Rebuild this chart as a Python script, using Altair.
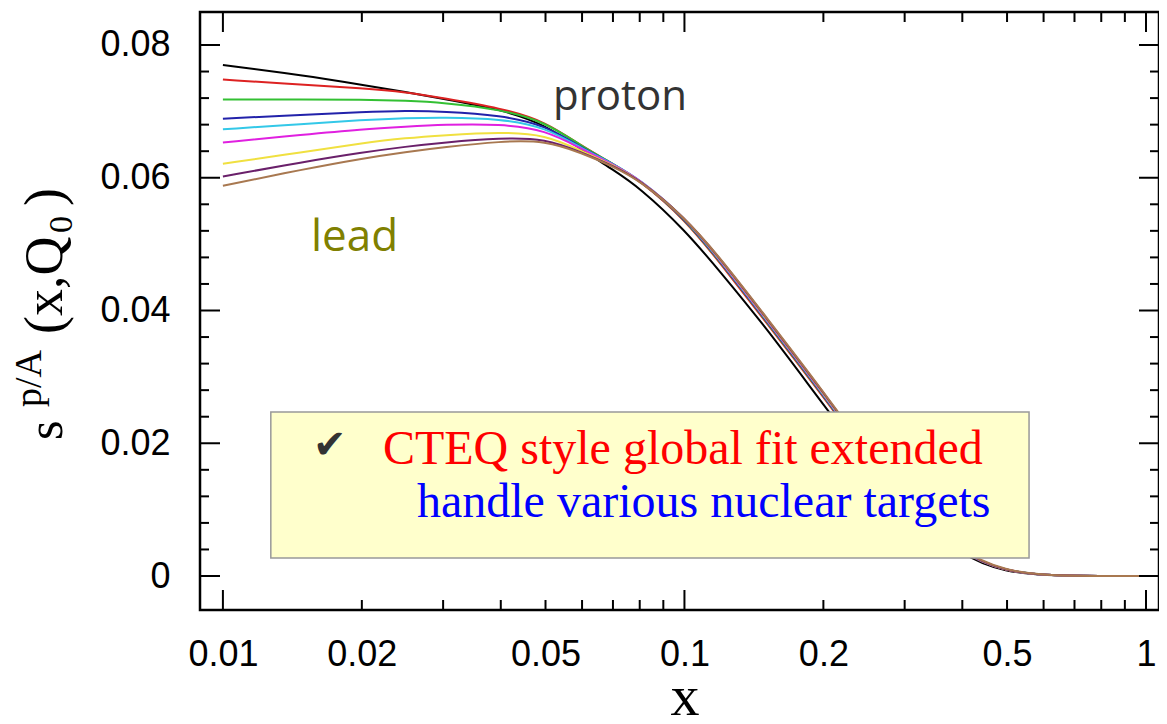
import altair as alt
import pandas as pd

# ---------------- data ----------------
X_VALUES = [0.01, 0.015, 0.02, 0.025, 0.03, 0.04, 0.05, 0.06, 0.07, 0.08, 0.1,
            0.12, 0.15, 0.2, 0.25, 0.3, 0.4, 0.5, 0.6, 0.8, 1.0]

SERIES_NAMES = ["proton", "A2", "A3", "A4", "A5", "A6", "A7", "A8", "lead"]
SERIES_COLORS = ["#000000", "#dd2222", "#33c033", "#2222aa", "#33c8e8",
                 "#e020e0", "#f0e040", "#6a206a", "#a87850"]

proton = [0.0770, 0.0754, 0.0740, 0.0729, 0.0719, 0.0703, 0.0680, 0.0642, 0.0612, 0.0585, 0.0522,
          0.0457, 0.0375, 0.0258, 0.0170, 0.0105, 0.0028, 0.0006, 0.0001, 0.0, 0.0]
a2 = [0.0748, 0.0740, 0.0735, 0.0729, 0.0720, 0.0705, 0.0685, 0.0647, 0.0621, 0.0596, 0.0538,
      0.0470, 0.0383, 0.0270, 0.0178, 0.0111, 0.0030, 0.0007, 0.0001, 0.0, 0.0]
a3 = [0.0718, 0.0718, 0.0718, 0.0716, 0.0713, 0.0703, 0.0684, 0.0647, 0.0621, 0.0597, 0.0539,
      0.0472, 0.0385, 0.0272, 0.0179, 0.0112, 0.0031, 0.0007, 0.0001, 0.0, 0.0]
a4 = [0.0689, 0.0695, 0.0699, 0.0701, 0.0700, 0.0694, 0.0679, 0.0645, 0.0621, 0.0597, 0.0540,
      0.0473, 0.0386, 0.0273, 0.0180, 0.0112, 0.0031, 0.0007, 0.0001, 0.0, 0.0]
a5 = [0.0673, 0.0681, 0.0687, 0.0690, 0.0691, 0.0689, 0.0676, 0.0644, 0.0621, 0.0598, 0.0541,
      0.0474, 0.0387, 0.0274, 0.0181, 0.0113, 0.0031, 0.0007, 0.0001, 0.0, 0.0]
a6 = [0.0653, 0.0665, 0.0673, 0.0677, 0.0680, 0.0681, 0.0672, 0.0643, 0.0620, 0.0598, 0.0541,
      0.0475, 0.0388, 0.0275, 0.0182, 0.0113, 0.0032, 0.0007, 0.0001, 0.0, 0.0]
a7 = [0.0621, 0.0639, 0.0652, 0.0660, 0.0664, 0.0669, 0.0665, 0.0640, 0.0619, 0.0597, 0.0541,
      0.0476, 0.0389, 0.0276, 0.0183, 0.0114, 0.0032, 0.0007, 0.0001, 0.0, 0.0]
a8 = [0.0602, 0.0624, 0.0638, 0.0647, 0.0653, 0.0660, 0.0659, 0.0638, 0.0618, 0.0597, 0.0541,
      0.0477, 0.0390, 0.0277, 0.0184, 0.0114, 0.0032, 0.0007, 0.0001, 0.0, 0.0]
lead = [0.0588, 0.0613, 0.0629, 0.0639, 0.0646, 0.0655, 0.0656, 0.0637, 0.0617, 0.0596, 0.0541,
        0.0478, 0.0391, 0.0278, 0.0185, 0.0115, 0.0033, 0.0008, 0.0001, 0.0, 0.0]
SERIES_VALUES = [proton, a2, a3, a4, a5, a6, a7, a8, lead]

X_LABELS = [0.01, 0.02, 0.05, 0.1, 0.2, 0.5, 1]
Y_LABELS = [0, 0.02, 0.04, 0.06, 0.08]
X_MAJOR = [0.01, 0.1, 1]
X_MINOR = [0.02, 0.03, 0.04, 0.05, 0.06, 0.07, 0.08, 0.09,
           0.2, 0.3, 0.4, 0.5, 0.6, 0.7, 0.8, 0.9]
Y_MAJOR = [0, 0.02, 0.04, 0.06, 0.08]
Y_MINOR = [0.004, 0.008, 0.012, 0.016, 0.024, 0.028, 0.032, 0.036,
           0.044, 0.048, 0.052, 0.056, 0.064, 0.068, 0.072, 0.076]

# annotation box (data units) and texts
BOX = {"x": [0.0127], "x2": [0.558], "y": [0.0027], "y2": [0.0247]}
LINE1 = {"x": [0.02222], "y": [0.01687], "t": ["CTEQ style global fit extended"]}
LINE2 = {"x": [0.02633], "y": [0.00889], "t": ["handle various nuclear targets"]}
CHECK = {"x": [0.01567], "y": [0.01778], "t": ["\u2714"]}
PROTON_LBL = {"x": [0.0519], "y": [0.0702], "t": ["proton"]}
LEAD_LBL = {"x": [0.01552], "y": [0.04896], "t": ["lead"]}

# ---------------- layout ----------------
W, H = 959, 598
XDOM = [0.00892, 1.0671]
YDOM = [-0.00512, 0.08497]

rows = []
for name, vals in zip(SERIES_NAMES, SERIES_VALUES):
    for xv, yv in zip(X_VALUES, vals):
        rows.append({"x": xv, "y": yv, "series": name})
df = pd.DataFrame(rows)

xscale = alt.Scale(type="log", domain=XDOM, nice=False)
yscale = alt.Scale(domain=YDOM, nice=False, zero=False)
xaxis = alt.Axis(values=X_LABELS, format="~g", ticks=False, domain=False, grid=False,
                 labelFont="Liberation Sans", labelFontSize=36, labelColor="black",
                 labelPadding=27, title=None, labelFlush=False, labelOverlap=False)
yaxis = alt.Axis(values=Y_LABELS, format="~g", ticks=False, domain=False, grid=False,
                 labelFont="Liberation Sans", labelFontSize=36, labelColor="black",
                 labelPadding=30, title=None, labelFlush=False, labelOverlap=False)

lines = alt.Chart(df).mark_line(strokeWidth=2, interpolate="basis").encode(
    x=alt.X("x:Q", scale=xscale, axis=xaxis),
    y=alt.Y("y:Q", scale=yscale, axis=yaxis),
    color=alt.Color("series:N", scale=alt.Scale(domain=SERIES_NAMES, range=SERIES_COLORS),
                    legend=None),
)

box = alt.Chart(pd.DataFrame(BOX)).mark_rect(fill="#ffffcc", stroke="#999999",
                                             strokeWidth=1.5).encode(
    x=alt.X("x:Q", scale=xscale, axis=xaxis), x2="x2",
    y=alt.Y("y:Q", scale=yscale, axis=yaxis), y2="y2")


def data_text(d, color, font, size):
    return alt.Chart(pd.DataFrame(d)).mark_text(
        align="left", baseline="alphabetic", color=color, font=font, fontSize=size
    ).encode(x=alt.X("x:Q", scale=xscale, axis=xaxis),
             y=alt.Y("y:Q", scale=yscale, axis=yaxis), text="t:N")


t1 = data_text(LINE1, "#ff0000", "Liberation Serif", 48)
t2 = data_text(LINE2, "#0000ff", "Liberation Serif", 48)
tc = data_text(CHECK, "#333333", "DejaVu Sans", 40)
tp = data_text(PROTON_LBL, "#333333", "Open Sans", 42)
tl = data_text(LEAD_LBL, "#808000", "Open Sans", 44)


def pix_text(txt, px, py, size, angle=270, align="left", font="Liberation Serif"):
    return alt.Chart(pd.DataFrame({"t": [txt]})).mark_text(
        align=align, baseline="alphabetic", angle=angle, font=font,
        fontSize=size, color="black"
    ).encode(x=alt.value(px), y=alt.value(py), text="t:N")


ytitle = [
    pix_text("s", -138, 428, 50),
    pix_text("p/A", -159, 395, 38),
    pix_text("(x,Q", -138, 322, 54),
    pix_text("0", -128, 221, 34),
    pix_text(")", -138, 194, 54),
]
xtitle = pix_text("x", 485, 703, 58, angle=0, align="center")


def xticks(vals, length):
    d = pd.DataFrame({"x": vals})
    bot = alt.Chart(d).mark_rule(color="black", strokeWidth=2).encode(
        x=alt.X("x:Q", scale=xscale, axis=xaxis), y=alt.value(H), y2=alt.value(H - length))
    top = alt.Chart(d).mark_rule(color="black", strokeWidth=2).encode(
        x=alt.X("x:Q", scale=xscale, axis=xaxis), y=alt.value(0), y2=alt.value(length))
    return [bot, top]


def yticks(vals, length):
    d = pd.DataFrame({"y": vals})
    left = alt.Chart(d).mark_rule(color="black", strokeWidth=2).encode(
        y=alt.Y("y:Q", scale=yscale, axis=yaxis), x=alt.value(0), x2=alt.value(length))
    right = alt.Chart(d).mark_rule(color="black", strokeWidth=2).encode(
        y=alt.Y("y:Q", scale=yscale, axis=yaxis), x=alt.value(W), x2=alt.value(W - length))
    return [left, right]


ticks = xticks(X_MAJOR, 20) + xticks(X_MINOR, 10) + yticks(Y_MAJOR, 20) + yticks(Y_MINOR, 9)

chart = alt.layer(
    lines, box, t1, t2, tc, tp, tl, *ticks, *ytitle, xtitle
).properties(
    width=W, height=H,
    padding={"left": 192, "top": 4, "right": 0, "bottom": 106},
    autosize=alt.AutoSizeParams(type="none"),
    background="white",
).configure_view(stroke="black", strokeWidth=2.5)

chart.save("out.html", embed_options={"renderer": "svg", "actions": False})
